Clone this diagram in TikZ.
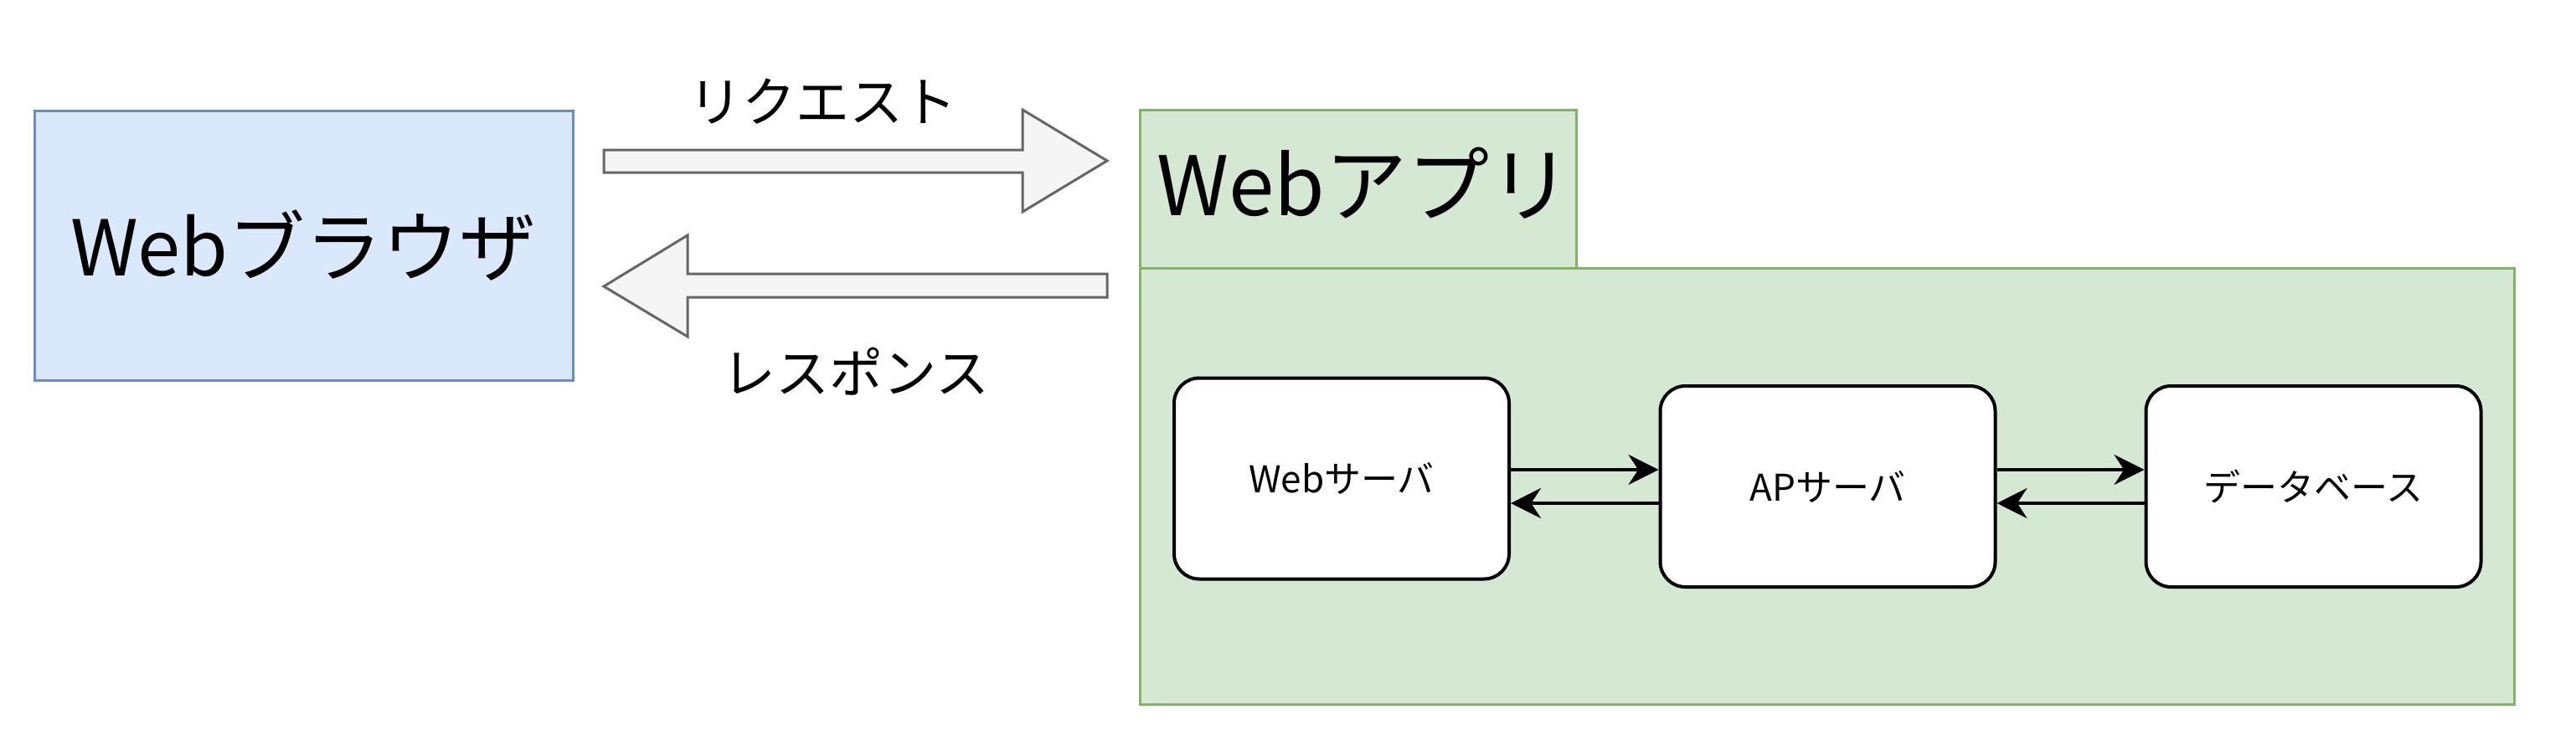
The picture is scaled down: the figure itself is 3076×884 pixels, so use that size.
\documentclass[tikz,border=0pt]{standalone}
\usepackage{fontspec}
\setmainfont{Noto Sans CJK JP}
\usetikzlibrary{arrows.meta}
\definecolor{bfill}{HTML}{DAE8FC}\definecolor{bdraw}{HTML}{6C8EBF}
\definecolor{gfill}{HTML}{D5E8D4}\definecolor{gdraw}{HTML}{82B366}
\definecolor{afill}{HTML}{F5F5F5}\definecolor{adraw}{HTML}{666666}
\begin{document}
\begin{tikzpicture}[x=1pt,y=-1pt,
  blk/.style={line width=3pt,fill=afill,draw=adraw,line join=miter},
  srv/.style={draw=black,fill=white,line width=4pt,rounded corners=30pt,minimum width=400pt,minimum height=240pt,font=\fontsize{44}{50}\selectfont},
  con/.style={line width=4pt,-{Stealth[length=36pt,width=36pt]}},
  lbl/.style={font=\fontsize{64}{70}\selectfont}]
\useasboundingbox (0,0) rectangle (3076,884);
\node[draw=bdraw,fill=bfill,line width=3pt,minimum width=643pt,minimum height=322pt,font=\fontsize{92}{100}\selectfont,inner sep=0] (browser) at (362.5,293) {Webブラウザ};
\fill[gfill,draw=gdraw,line width=3pt] (1361,131) rectangle (1882,320);
\fill[gfill,draw=gdraw,line width=3pt] (1361,320) rectangle (3002,841);
\node[font=\fontsize{98}{100}\selectfont,anchor=base west,inner sep=0] (app) at (1381,257) {Webアプリ};
% request arrow
\draw[blk] (721,179) -- (1221,179) -- (1221,131) -- (1322,192) -- (1221,253) -- (1221,206) -- (721,206) -- cycle;
\draw[blk] (1322,327) -- (821,327) -- (821,281) -- (721,342) -- (821,402) -- (821,355) -- (1322,355) -- cycle;
\node[lbl] (req) at (982,121) {リクエスト};
\node[lbl] (res) at (1022,444) {レスポンス};
\node[srv] (web) at (1602,571.5) {Webサーバ};
\node[srv] (ap) at (2182.5,581) {APサーバ};
\node[srv] (db) at (2762.5,581) {データベース};
\coordinate (u) at (0,561); \coordinate (l) at (0,601);
\draw[con] (web.east |- u) -- (ap.west |- u);
\draw[con] (ap.west |- l) -- (web.east |- l);
\draw[con] (ap.east |- u) -- (db.west |- u);
\draw[con] (db.west |- l) -- (ap.east |- l);
\end{tikzpicture}
\end{document}
